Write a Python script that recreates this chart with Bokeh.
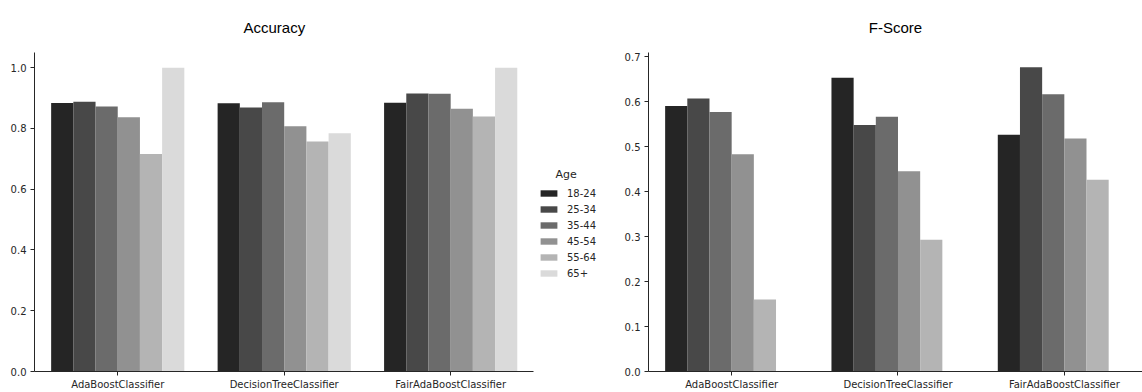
import math
from bokeh.plotting import figure
from bokeh.layouts import row
from bokeh.models import ColumnDataSource, FixedTicker, Range1d, Legend, LegendItem, NumeralTickFormatter
from bokeh.embed import file_html
from bokeh.resources import INLINE

models = ["AdaBoostClassifier", "DecisionTreeClassifier", "FairAdaBoostClassifier"]
ages = ["18-24", "25-34", "35-44", "45-54", "55-64", "65+"]
colors = ["#252525", "#484848", "#6b6b6b", "#919191", "#b4b4b4", "#dadada"]

accuracy = {
    "18-24": [0.884, 0.883, 0.885],
    "25-34": [0.888, 0.869, 0.915],
    "35-44": [0.872, 0.886, 0.914],
    "45-54": [0.837, 0.807, 0.865],
    "55-64": [0.716, 0.757, 0.839],
    "65+":   [1.000, 0.784, 1.000],
}
fscore = {
    "18-24": [0.590, 0.653, 0.526],
    "25-34": [0.607, 0.548, 0.676],
    "35-44": [0.577, 0.566, 0.616],
    "45-54": [0.483, 0.445, 0.518],
    "55-64": [0.160, 0.293, 0.426],
    "65+":   [float("nan"), float("nan"), float("nan")],
}

BAR_W = 0.8 / len(ages)
TICK_FONT = "DejaVu Sans"


def make_fig(title, data, width, ymax, yticks, border_left, border_right, x_end):
    p = figure(width=width, height=392, output_backend="svg", toolbar_location=None,
               x_range=Range1d(-0.5, x_end), y_range=Range1d(0, ymax),
               min_border_left=border_left, min_border_right=border_right,
               min_border_top=52, min_border_bottom=21)
    p.title.text = title
    p.title.text_font = "Liberation Sans"
    p.title.text_font_size = "15px"
    p.title.text_font_style = "normal"
    p.title.text_color = "#000000"
    p.title.standoff = 33
    renderers = []
    for i, age in enumerate(ages):
        off = (i - (len(ages) - 1) / 2) * BAR_W
        src = ColumnDataSource(dict(x=[j + off for j in range(len(models))], top=data[age]))
        r = p.vbar(x="x", top="top", width=BAR_W, source=src, fill_color=colors[i],
                   line_color=None)
        renderers.append(r)
    p.xgrid.visible = False
    p.ygrid.visible = False
    p.outline_line_color = None
    p.xaxis.ticker = FixedTicker(ticks=list(range(len(models))))
    p.xaxis.major_label_overrides = {j: m for j, m in enumerate(models)}
    p.xaxis.bounds = (-0.5, 2.5)
    p.yaxis.ticker = FixedTicker(ticks=yticks)
    p.yaxis.formatter = NumeralTickFormatter(format="0.0")
    for ax in (p.xaxis, p.yaxis):
        ax.axis_line_color = "#262626"
        ax.axis_line_width = 1
        ax.major_tick_line_color = "#262626"
        ax.major_tick_out = 4
        ax.major_tick_in = 0
        ax.minor_tick_line_color = None
        ax.major_label_text_font = TICK_FONT
        ax.major_label_text_font_size = "10px"
        ax.major_label_text_color = "#262626"
    p.xaxis.major_label_standoff = 3
    p.yaxis.major_label_standoff = 4
    return p, renderers


# left frame spans 34..600 px; 166.4 px per category -> x_end = -0.5 + 566/166.4
p1, rs = make_fig("Accuracy", accuracy, 600, 1.05, [0, 0.2, 0.4, 0.6, 0.8, 1.0], 34, 0, 2.90)
p1.title.align = "left"
p1.title.offset = 209
legend = Legend(items=[LegendItem(label=a, renderers=[r]) for a, r in zip(ages, rs)],
                title="\u00a0\u00a0\u00a0\u00a0\u00a0Age")
legend.border_line_color = None
legend.background_fill_alpha = 0
legend.title_text_font = TICK_FONT
legend.title_text_font_size = "11px"
legend.title_text_font_style = "normal"
legend.title_text_color = "#262626"
legend.title_standoff = 6
legend.label_text_font = TICK_FONT
legend.label_text_font_size = "10px"
legend.label_text_color = "#262626"
legend.glyph_width = 21
legend.glyph_height = 8
legend.label_height = 12
legend.label_standoff = 8
legend.spacing = 4
legend.padding = 0
legend.margin = 0
legend.location = (504, 92)
p1.add_layout(legend)

p2, _ = make_fig("F-Score", fscore, 542, 0.709, [0, 0.1, 0.2, 0.3, 0.4, 0.5, 0.6, 0.7], 48, 0, 2.47)
p2.title.align = "center"
p2.xaxis.bounds = (-0.5, 2.47)

layout = row(p1, p2)
open("out.html", "w").write(file_html(layout, INLINE))
